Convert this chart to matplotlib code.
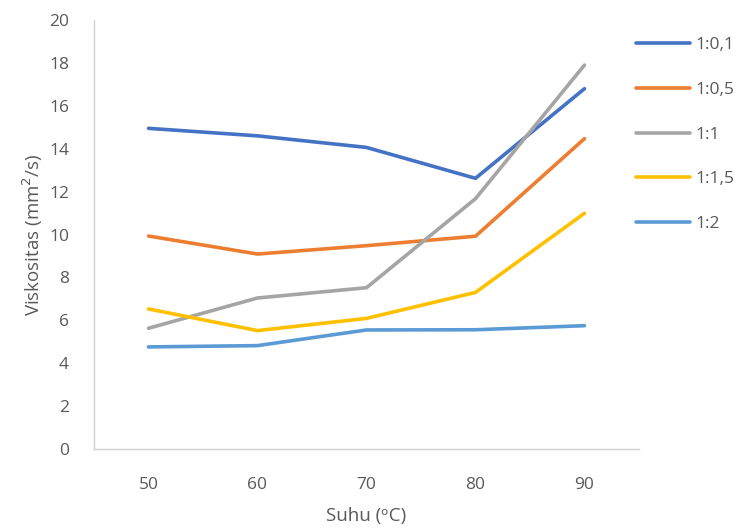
import matplotlib
matplotlib.use('Agg')
import matplotlib.pyplot as plt

# ── Data ──
suhu = [50, 60, 70, 80, 90]
series_labels = ['1:0,1', '1:0,5', '1:1', '1:1,5', '1:2']
v_01 = [14.95, 14.6, 14.06, 12.62, 16.8]
v_05 = [9.93, 9.09, 9.48, 9.92, 14.47]
v_1 = [5.63, 7.04, 7.52, 11.67, 17.9]
v_15 = [6.53, 5.52, 6.09, 7.3, 10.99]
v_2 = [4.76, 4.82, 5.55, 5.56, 5.75]
y_ticks = [0, 2, 4, 6, 8, 10, 12, 14, 16, 18, 20]

colors = ['#4472C4', '#ED7D31', '#A5A5A5', '#FFC000', '#5B9BD5']
txt = '#595959'

plt.rcParams['font.family'] = ['Open Sans', 'DejaVu Sans']

fig = plt.figure(figsize=(7.43, 5.31), dpi=100)
fig.patch.set_facecolor('white')
ax = fig.add_axes([0.1265, 0.1544, 0.7335, 0.8079])

x = list(range(len(suhu)))
for vals, c, lab in zip([v_01, v_05, v_1, v_15, v_2], colors, series_labels):
    ax.plot(x, vals, color=c, lw=2.6, label=lab, solid_capstyle='round')

ax.set_xlim(-0.5, len(suhu) - 0.5)
ax.set_ylim(0, 20)
ax.set_xticks(x)
ax.set_xticklabels([str(s) for s in suhu])
ax.set_yticks(y_ticks)
ax.tick_params(axis='both', length=0, labelsize=12.5, colors=txt)
ax.tick_params(axis='x', pad=20)
ax.tick_params(axis='y', pad=18)

for s in ['top', 'right']:
    ax.spines[s].set_visible(False)
for s in ['left', 'bottom']:
    ax.spines[s].set_color('#D0D0D0')
    ax.spines[s].set_linewidth(1.0)

ax.set_xlabel('Suhu (ᵒC)', fontsize=13.5, color=txt, labelpad=10)
ax.set_ylabel('Viskositas (mm$^2$/s)', fontsize=13.5, color=txt, labelpad=3)

fig.legend(loc='upper left', bbox_to_anchor=(0.835, 0.96), frameon=False,
           fontsize=12.5, labelcolor=txt, labelspacing=1.65,
           handlelength=3.1, handletextpad=0.3)

plt.savefig('out.png', dpi=100, facecolor='white')
plt.close()
